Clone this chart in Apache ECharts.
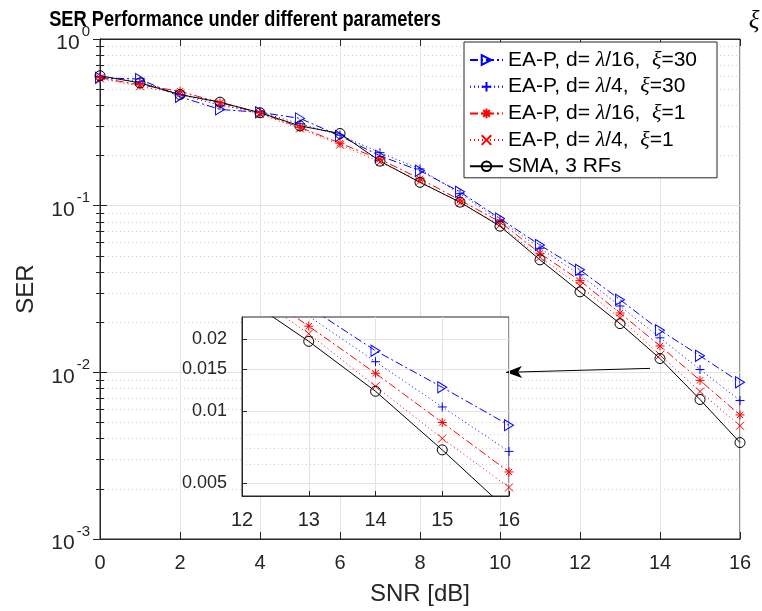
<!DOCTYPE html>
<html><head><meta charset="utf-8">
<script src="https://cdn.jsdelivr.net/npm/echarts@6/dist/echarts.min.js"></script>
<style>html,body{margin:0;padding:0;background:#fff}#c{width:762px;height:611px}</style>
</head><body><div id="c"></div>
<script>
// ---- data ----
const snr = [0,1,2,3,4,5,6,7,8,9,10,11,12,13,14,15,16];
const eapL16X30 = [0.585,0.575,0.450,0.378,0.363,0.334,0.262,0.199,0.162,0.121,0.0837,0.0580,0.0412,0.0273,0.0179,0.01257,0.00872];
const eapL4X30  = [0.590,0.555,0.465,0.400,0.365,0.310,0.265,0.208,0.166,0.118,0.0818,0.0555,0.0385,0.0250,0.0161,0.0104,0.00677];
const eapL16X1  = [0.585,0.530,0.486,0.415,0.360,0.295,0.237,0.190,0.145,0.108,0.0799,0.0518,0.0355,0.0227,0.0144,0.00895,0.00555];
const eapL4X1   = [0.580,0.520,0.470,0.410,0.355,0.290,0.232,0.183,0.140,0.104,0.0765,0.0490,0.0330,0.0211,0.0127,0.00767,0.00478];
const sma3RF    = [0.602,0.545,0.464,0.418,0.361,0.301,0.271,0.185,0.138,0.105,0.0753,0.0473,0.0304,0.0196,0.0121,0.00687,0.00379];
const seriesNames = ['EA-P, d= λ/16,  ξ=30','EA-P, d= λ/4,  ξ=30','EA-P, d= λ/16,  ξ=1','EA-P, d= λ/4,  ξ=1','SMA, 3 RFs'];
const insetYTicks = [0.005,0.01,0.015,0.02];
const insetYMinor = [0.006,0.007,0.008,0.009];
const arrowFrom = [13.75, 0.01056];
const arrowTo = [10.15, 0.0100];

const FONT = 'Liberation Sans, Arial, sans-serif';
const TXT = '#262626';
const GRIDC = '#e3e3e3';
const BLUE = '#0000ff', RED = '#ff0000', BLACK = '#000000';

const SYM = {
  tri: 'path://M0 0L10 5L0 10Z',
  plus: 'path://M5 0L5 10M0 5L10 5',
  star: 'path://M5 0L5 10M0 5L10 5M1.5 1.5L8.5 8.5M8.5 1.5L1.5 8.5',
  cross: 'path://M0 0L10 10M10 0L0 10',
  circ: 'circle'
};
const styles = [
  {color: BLUE, sym: SYM.tri, size: [9,11], dash: [8,3,2,3], fill: 'rgba(0,0,0,0)'},
  {color: BLUE, sym: SYM.plus, size: 9, dash: [1,3], fill: BLUE},
  {color: RED, sym: SYM.star, size: 9, dash: [8,3,2,3], fill: RED},
  {color: RED, sym: SYM.cross, size: 8, dash: [1,3], fill: RED},
  {color: BLACK, sym: SYM.circ, size: 10, dash: 'solid', fill: 'rgba(0,0,0,0)'}
];
const allData = [eapL16X30, eapL4X30, eapL16X1, eapL4X1, sma3RF];

function mkSeries(i, xi, yi, z) {
  const s = styles[i];
  return {
    name: seriesNames[i], type: 'line', xAxisIndex: xi, yAxisIndex: yi, z: z,
    data: snr.map((x, k) => [x, allData[i][k]]),
    symbol: s.sym, symbolSize: s.size, showAllSymbol: true,
    color: s.color,
    itemStyle: {color: s.fill, borderColor: s.color, borderWidth: 1},
    lineStyle: {color: s.color, width: 1, type: s.dash},
    emphasis: {disabled: true}, animation: false, clip: true
  };
}

const series = [];
for (let i = 0; i < 5; i++) series.push(mkSeries(i, 0, 0, 2));
for (let i = 0; i < 5; i++) series.push(mkSeries(i, 2, 2, 8));
series[4].markLine = {
  silent: true, animation: false, symbol: ['none', 'arrow'], symbolSize: [9, 16],
  lineStyle: {color: BLACK, width: 1, type: 'solid'}, label: {show: false},
  data: [[{coord: arrowFrom}, {coord: arrowTo}]]
};

function supFmt(v) {
  const e = Math.round(Math.log10(v));
  return '{b|10}{s|' + e + '}';
}

const option = {
  animation: false,
  backgroundColor: '#fff',
  textStyle: {fontFamily: FONT},
  graphic: [
    {type: 'text', x: 245, y: 20, scaleX: 0.83, z: 20,
     style: {text: 'SER Performance under different parameters', font: 'bold 22px ' + FONT, fill: '#000', align: 'center', verticalAlign: 'middle'}},
    {type: 'text', x: 754, y: 21, z: 20,
     style: {text: 'ξ', font: 'italic 25px Liberation Serif, serif', fill: '#000', align: 'center', verticalAlign: 'middle'}}
  ],
  grid: [
    {left: 100, right: 22, top: 39, bottom: 68, show: true, borderColor: TXT, borderWidth: 1, backgroundColor: '#fff'},
    {left: 242, top: 317, width: 267, height: 179, show: true, borderColor: TXT, borderWidth: 1, backgroundColor: '#fff', z: 5}
  ],
  legend: {
    left: 464, top: 42, orient: 'vertical', padding: [7, 20, 1, 5],
    backgroundColor: '#fff', borderColor: TXT, borderWidth: 1,
    itemWidth: 33, itemHeight: 12, itemGap: 4.7, z: 10,
    data: seriesNames,
    formatter: n => n.replace(/λ/g, '{i|λ}').replace(/ξ/g, '{i|ξ}'),
    textStyle: {fontSize: 21, color: '#000', fontFamily: FONT, lineHeight: 20,
      rich: {i: {fontSize: 22, fontStyle: 'italic', fontFamily: 'Liberation Serif, serif', lineHeight: 20}}}
  },
  xAxis: [
    {gridIndex: 0, type: 'value', min: 0, max: 16, interval: 2,
     name: 'SNR [dB]', nameLocation: 'middle', nameGap: 43, nameTextStyle: {fontSize: 24, color: TXT},
     axisLine: {show: true, lineStyle: {color: TXT}}, axisTick: {inside: true, length: 7, lineStyle: {color: TXT}},
     axisLabel: {fontSize: 20, color: TXT, margin: 14},
     splitLine: {show: true, lineStyle: {color: GRIDC, width: 1}}},
    {gridIndex: 0, type: 'value', min: 0, max: 16, interval: 2, position: 'top',
     axisLine: {show: true, lineStyle: {color: TXT}}, axisTick: {inside: true, length: 7, lineStyle: {color: TXT}},
     axisLabel: {show: false}, splitLine: {show: false}},
    {gridIndex: 1, type: 'value', min: 12, max: 16, interval: 1, z: 7,
     axisLine: {show: true, lineStyle: {color: TXT}}, axisTick: {inside: true, length: 5, lineStyle: {color: TXT}},
     axisLabel: {fontSize: 20, color: TXT, margin: 14},
     splitLine: {show: true, lineStyle: {color: GRIDC, width: 1}}}
  ],
  yAxis: [
    {gridIndex: 0, type: 'log', logBase: 10, min: 0.001, max: 1,
     name: 'SER', nameLocation: 'middle', nameGap: 62, nameTextStyle: {fontSize: 24, color: TXT},
     axisLine: {show: true, lineStyle: {color: TXT}},
     axisTick: {inside: true, length: 7, lineStyle: {color: TXT}},
     minorTick: {show: true, splitNumber: 9, length: 4, lineStyle: {color: TXT}},
     minorSplitLine: {show: true, lineStyle: {color: '#cfcfcf', type: [1, 3]}},
     axisLabel: {formatter: supFmt, margin: 10, color: TXT,
       rich: {b: {fontSize: 21, color: TXT, verticalAlign: 'bottom', lineHeight: 30},
              s: {fontSize: 15, color: TXT, verticalAlign: 'top', lineHeight: 30, padding: [0, 0, 0, 2]}}},
     splitLine: {show: true, lineStyle: {color: GRIDC, width: 1}}},
    {gridIndex: 0, type: 'log', logBase: 10, min: 0.001, max: 1, position: 'right',
     axisLine: {show: true, lineStyle: {color: TXT}},
     axisTick: {inside: true, length: 7, lineStyle: {color: TXT}},
     minorTick: {show: true, splitNumber: 9, length: 4, lineStyle: {color: TXT}},
     axisLabel: {show: false}, splitLine: {show: false}},
    {gridIndex: 1, type: 'log', logBase: 10, min: 0.0044, max: 0.0248, z: 7,
     axisLine: {show: true, lineStyle: {color: TXT}},
     axisTick: {inside: true, length: 5, lineStyle: {color: TXT}, customValues: insetYTicks},
     axisLabel: {fontSize: 18, color: TXT, margin: 15, customValues: insetYTicks, formatter: v => String(+v.toPrecision(3))},
     splitLine: {show: true, lineStyle: {color: GRIDC, width: 1}}},
    {gridIndex: 1, type: 'log', logBase: 10, min: 0.0044, max: 0.0248, z: 6,
     axisLine: {show: false}, axisLabel: {show: false},
     axisTick: {show: false, customValues: insetYMinor},
     splitLine: {show: true, lineStyle: {color: '#cfcfcf', type: [1, 3]}}}
  ],
  series: series
};

const chart = echarts.init(document.getElementById('c'), null, {renderer: 'canvas'});
chart.setOption(option);
</script>
</body></html>
